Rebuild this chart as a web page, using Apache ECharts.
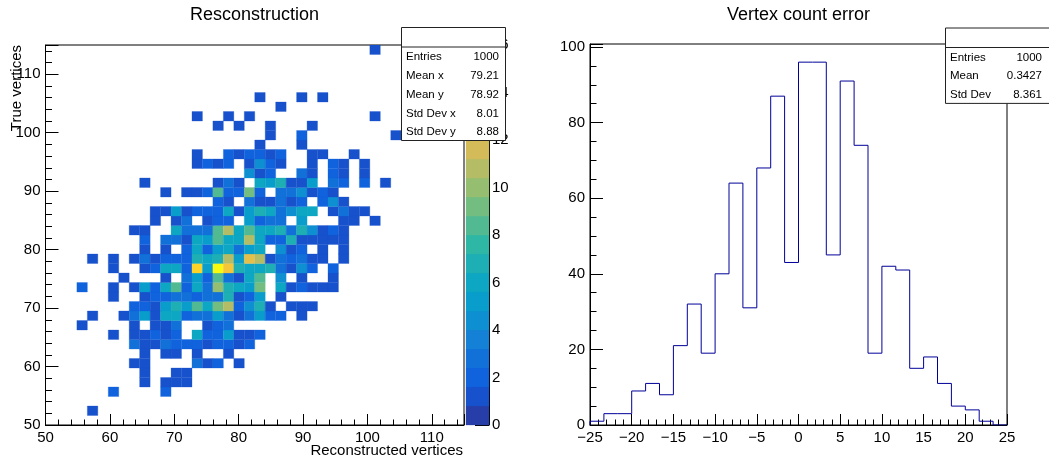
<!DOCTYPE html>
<html>
<head>
<meta charset="utf-8">
<title>Resconstruction</title>
<script src="https://cdn.jsdelivr.net/npm/echarts@6/dist/echarts.min.js"></script>
<style>
  html, body { margin: 0; padding: 0; background: #fff; }
  #chart { width: 1049px; height: 469px; }
</style>
</head>
<body>
<div id="chart"></div>
<script>
// 2D histogram: 40 x 40 bins over [50, 115] on both axes
const xMin = 50, xMax = 115, yMin = 50, yMax = 115, nBins2d = 40;
const zMax = 16, nContours = 20;
// [binX, binY, entries] (empty bins are not listed)
const cells = [
  [4,1,1],
  [6,3,2],[11,3,2],
  [9,4,1],[11,4,1],[12,4,1],[13,4,1],
  [9,5,1],[12,5,1],[13,5,1],
  [8,6,1],[9,6,1],[14,6,3],[15,6,1],[16,6,2],[18,6,1],
  [9,7,1],[11,7,1],[12,7,1],[14,7,1],[17,7,1],
  [8,8,3],[9,8,1],[10,8,1],[11,8,3],[12,8,2],[13,8,2],[14,8,2],[15,8,1],[16,8,2],[17,8,2],[18,8,1],[19,8,2],
  [6,9,1],[8,9,1],[9,9,1],[10,9,2],[11,9,1],[12,9,2],[14,9,6],[15,9,2],[16,9,2],[17,9,5],[18,9,1],[19,9,1],[20,9,2],
  [3,10,1],[8,10,1],[10,10,1],[11,10,1],[12,10,3],[15,10,1],[16,10,2],[17,10,3],
  [4,11,1],[7,11,1],[8,11,3],[9,11,5],[10,11,1],[11,11,6],[12,11,6],[13,11,2],[14,11,3],[15,11,3],[16,11,5],[17,11,3],[18,11,1],[19,11,3],[20,11,5],[21,11,2],[22,11,2],[24,11,1],
  [8,12,2],[9,12,2],[10,12,1],[11,12,5],[12,12,7],[13,12,5],[14,12,8],[15,12,6],[16,12,9],[17,12,11],[18,12,2],[19,12,4],[20,12,7],[21,12,1],[23,12,1],[24,12,1],[25,12,1],
  [6,13,1],[9,13,1],[10,13,2],[11,13,2],[12,13,3],[13,13,3],[14,13,2],[15,13,3],[16,13,3],[17,13,7],[18,13,1],[19,13,2],[20,13,5],[22,13,1],
  [3,14,2],[6,14,1],[8,14,1],[9,14,5],[10,14,2],[11,14,6],[12,14,8],[13,14,2],[14,14,6],[15,14,3],[16,14,10],[17,14,7],[18,14,6],[19,14,5],[20,14,9],[22,14,6],[23,14,1],[24,14,2],[25,14,1],[26,14,1],[27,14,1],
  [7,15,1],[11,15,1],[13,15,3],[14,15,5],[15,15,2],[16,15,8],[17,15,3],[18,15,1],[19,15,6],[20,15,8],[22,15,4],[24,15,1],[27,15,1],
  [6,16,1],[9,16,1],[10,16,2],[11,16,6],[12,16,6],[13,16,2],[14,16,14],[15,16,5],[16,16,16],[17,16,13],[18,16,7],[19,16,6],[20,16,6],[21,16,7],[22,16,3],[23,16,1],[24,16,4],[25,16,2],[27,16,2],
  [4,17,1],[6,17,1],[8,17,1],[9,17,3],[10,17,1],[11,17,2],[12,17,2],[13,17,2],[14,17,7],[15,17,6],[16,17,7],[17,17,11],[18,17,5],[19,17,12],[20,17,11],[21,17,1],[22,17,3],[23,17,2],[24,17,3],[25,17,1],[26,17,1],[28,17,1],
  [9,18,1],[11,18,1],[13,18,2],[14,18,6],[15,18,2],[16,18,5],[17,18,6],[18,18,3],[19,18,5],[20,18,6],[22,18,4],[23,18,1],[24,18,2],[26,18,1],[28,18,1],
  [9,19,2],[11,19,3],[12,19,3],[13,19,1],[14,19,6],[15,19,5],[16,19,8],[17,19,6],[18,19,6],[19,19,11],[20,19,6],[21,19,2],[22,19,2],[23,19,7],[24,19,1],[25,19,1],[26,19,1],[27,19,1],[28,19,1],
  [8,20,1],[9,20,1],[12,20,6],[13,20,3],[14,20,3],[15,20,3],[16,20,8],[17,20,11],[18,20,6],[19,20,8],[20,20,6],[21,20,6],[22,20,7],[23,20,3],[24,20,7],[25,20,4],[26,20,1],[27,20,2],[28,20,1],
  [10,21,1],[12,21,1],[13,21,3],[15,21,1],[16,21,2],[17,21,2],[19,21,5],[20,21,2],[21,21,3],[22,21,3],[24,21,5],[28,21,1],[29,21,1],[31,21,1],
  [10,22,1],[11,22,1],[12,22,5],[13,22,1],[14,22,2],[15,22,2],[16,22,2],[17,22,6],[18,22,1],[19,22,5],[20,22,7],[21,22,6],[22,22,3],[23,22,4],[24,22,6],[25,22,6],[27,22,1],[28,22,3],[29,22,1],[30,22,1],
  [16,23,2],[17,23,1],[19,23,3],[20,23,1],[21,23,1],[22,23,3],[23,23,1],[24,23,2],[26,23,2],[27,23,4],[28,23,1],
  [11,24,1],[13,24,1],[14,24,1],[15,24,2],[16,24,8],[17,24,2],[18,24,2],[19,24,9],[20,24,2],[22,24,3],[23,24,3],[24,24,4],[25,24,1],[26,24,2],[27,24,1],
  [9,25,1],[16,25,1],[17,25,3],[18,25,1],[20,25,6],[21,25,5],[22,25,7],[23,25,1],[24,25,1],[25,25,5],[27,25,3],[28,25,2],[30,25,2],[32,25,1],
  [19,26,4],[20,26,1],[21,26,2],[24,26,3],[25,26,1],[27,26,2],[28,26,1],[30,26,1],
  [14,27,1],[15,27,2],[16,27,1],[17,27,2],[19,27,1],[20,27,4],[21,27,2],[22,27,1],[25,27,1],[27,27,2],[28,27,1],[30,27,1],
  [14,28,1],[17,28,2],[18,28,1],[19,28,2],[20,28,2],[21,28,1],[22,28,2],[25,28,1],[26,28,1],[29,28,1],
  [20,29,1],[24,29,1],
  [21,30,1],[24,30,2],[33,30,1],
  [16,31,1],[18,31,1],[21,31,1],[25,31,1],
  [14,32,1],[17,32,1],[19,32,1],[31,32,1],
  [22,33,1],
  [20,34,1],[24,34,1],[26,34,1],
  [31,39,1]
];

// 1D histogram: 30 bins over [-25, 25]
const errMin = -25, errMax = 25;
const errCounts = [1,3,3,9,11,8,21,32,19,40,64,31,68,87,43,96,96,45,91,74,19,42,41,15,18,11,5,4,1,0];
const errYMax = 100.8;

const stats2d = [['Entries','1000'],['Mean x','79.21'],['Mean y','78.92'],['Std Dev x','8.01'],['Std Dev y','8.88']];
const stats1d = [['Entries','1000'],['Mean','0.3427'],['Std Dev','8.361']];

const FONT = 'Liberation Sans, Arial, Helvetica, sans-serif';

// ROOT kBird palette
const birdStops = [[53,42,135],[15,92,221],[20,129,214],[6,164,202],[46,183,164],[135,191,119],[209,187,89],[254,200,50],[249,251,14]];
function birdColor(f) {
  const s = Math.min(Math.max(f, 0), 1) * (birdStops.length - 1);
  const k = Math.min(Math.floor(s), birdStops.length - 2), t = s - k;
  const a = birdStops[k], b = birdStops[k + 1];
  return 'rgb(' + a.map((v, i) => Math.round(v + (b[i] - v) * t)).join(',') + ')';
}
function levelColor(level) {
  const idx = Math.floor((level + 0.99) * 255 / nContours);
  return birdColor(Math.min(idx, 254) / 254);
}
function binColor(n) {
  const level = Math.min(Math.floor(0.01 + n * nContours / zMax), nContours - 1);
  return levelColor(level);
}

const binW = (xMax - xMin) / nBins2d, binH = (yMax - yMin) / nBins2d;
const cellData = cells.map(c => [xMin + c[0] * binW, yMin + c[1] * binH, c[2]]);
const bandData = Array.from({ length: nContours }, (_, k) => [0, k]);

const errWidth = (errMax - errMin) / errCounts.length;
const errOutline = [[errMin, 0]];
errCounts.forEach((n, k) => {
  errOutline.push([errMin + k * errWidth, n], [errMin + (k + 1) * errWidth, n]);
});
errOutline.push([errMax, 0]);

const chart = echarts.init(document.getElementById('chart'));

function majorAxis(grid, pos, min, max, step, tickLen, fmt) {
  return {
    type: 'value', gridIndex: grid, position: pos, min: min, max: max, interval: step,
    axisLine: { show: true, onZero: false, lineStyle: { color: '#000', width: 1 } },
    axisTick: { show: true, inside: true, length: tickLen, lineStyle: { color: '#000', width: 1 } },
    axisLabel: { margin: 5, fontSize: 15, color: '#000', fontFamily: FONT, formatter: fmt },
    splitLine: { show: false }
  };
}
function minorAxis(grid, pos, min, max, step, tickLen) {
  return {
    type: 'value', gridIndex: grid, position: pos, min: min, max: max, interval: step,
    axisLine: { show: false, onZero: false },
    axisTick: { show: true, inside: true, length: tickLen, lineStyle: { color: '#000', width: 1 } },
    axisLabel: { show: false },
    splitLine: { show: false }
  };
}
const every = step => v => (Math.abs(v % step) < 1e-9 ? String(v).replace('-', '\u2212') : '');

function statsBox(x, y, w, rows, labelX, valueX) {
  const rowH = 18.8;
  const children = [
    { type: 'rect', z: 100, shape: { x: x, y: y, width: w, height: 20 + rows.length * rowH - 1 },
      style: { fill: '#fff', stroke: '#222', lineWidth: 1 } },
    { type: 'line', z: 101, shape: { x1: x, y1: y + 19.5, x2: x + w, y2: y + 19.5 },
      style: { stroke: '#222', lineWidth: 1 } }
  ];
  rows.forEach((r, i) => {
    const ty = y + 29.5 + i * rowH;
    children.push({ type: 'text', z: 101, x: labelX, y: ty,
      style: { text: r[0], fill: '#000', font: '11.5px ' + FONT, textAlign: 'left', textVerticalAlign: 'middle' } });
    children.push({ type: 'text', z: 101, x: valueX, y: ty,
      style: { text: r[1], fill: '#000', font: '11.5px ' + FONT, textAlign: 'right', textVerticalAlign: 'middle' } });
  });
  return { type: 'group', z: 100, children: children };
}

const option = {
  animation: false,
  backgroundColor: '#fff',
  textStyle: { fontFamily: FONT },
  grid: [
    { left: 45.5, top: 45, width: 418.5, height: 380, show: true, borderColor: '#000', borderWidth: 1 },
    { left: 466, top: 45, width: 23, height: 380 },
    { left: 590, top: 44, width: 417, height: 381, show: true, borderColor: '#000', borderWidth: 1 }
  ],
  xAxis: [
    majorAxis(0, 'bottom', xMin, xMax, 10, 11, every(10)),
    minorAxis(0, 'bottom', xMin, xMax, 2, 5.5),
    { type: 'value', gridIndex: 1, position: 'bottom', min: 0, max: 1, show: false },
    majorAxis(2, 'bottom', errMin, errMax, 5, 11, every(5)),
    minorAxis(2, 'bottom', errMin, errMax, 1, 5.5)
  ],
  yAxis: [
    majorAxis(0, 'left', yMin, yMax, 10, 13, every(10)),
    minorAxis(0, 'left', yMin, yMax, 2, 6.5),
    Object.assign(majorAxis(1, 'right', 0, zMax, 2, 14, every(2)), { axisLabel: { margin: 3, fontSize: 15, color: '#000', fontFamily: FONT } }),
    majorAxis(2, 'left', 0, errYMax, 20, 13, every(20)),
    minorAxis(2, 'left', 0, errYMax, 5, 6.5)
  ],
  series: [
    {
      type: 'custom', name: 'Resconstruction', xAxisIndex: 0, yAxisIndex: 0,
      data: cellData, encode: { x: 0, y: 1 }, clip: true, silent: true,
      renderItem: function (params, api) {
        const x0 = api.value(0), y0 = api.value(1), n = api.value(2);
        const p0 = api.coord([x0, y0]);
        const p1 = api.coord([x0 + binW, y0 + binH]);
        return {
          type: 'rect',
          shape: { x: p0[0], y: p1[1], width: p1[0] - p0[0], height: p0[1] - p1[1] },
          style: { fill: binColor(n), stroke: binColor(n), lineWidth: 0.3 }
        };
      }
    },
    {
      type: 'custom', name: 'palette', xAxisIndex: 2, yAxisIndex: 2,
      data: bandData, encode: { x: 0, y: 1 }, silent: true,
      renderItem: function (params, api) {
        const k = api.value(1);
        const p0 = api.coord([0, k * zMax / nContours]);
        const p1 = api.coord([1, (k + 1) * zMax / nContours]);
        return {
          type: 'rect',
          shape: { x: p0[0], y: p1[1], width: p1[0] - p0[0], height: p0[1] - p1[1] },
          style: { fill: levelColor(k), stroke: levelColor(k), lineWidth: 0.3 }
        };
      }
    },
    {
      type: 'line', name: 'Vertex count error', xAxisIndex: 3, yAxisIndex: 3,
      data: errOutline, symbol: 'none', silent: true,
      lineStyle: { color: '#000099', width: 1 }
    }
  ],
  graphic: [
    { type: 'text', x: 254.5, y: 15, z: 100,
      style: { text: 'Resconstruction', fill: '#000', font: '18px ' + FONT, textAlign: 'center', textVerticalAlign: 'middle' } },
    { type: 'text', x: 798.5, y: 15, z: 100,
      style: { text: 'Vertex count error', fill: '#000', font: '18px ' + FONT, textAlign: 'center', textVerticalAlign: 'middle' } },
    { type: 'text', x: 463, y: 451, z: 100,
      style: { text: 'Reconstructed vertices', fill: '#000', font: '15px ' + FONT, textAlign: 'right', textVerticalAlign: 'middle' } },
    { type: 'text', x: 17, y: 45, rotation: Math.PI / 2, z: 100,
      style: { text: 'True vertices', fill: '#000', font: '15px ' + FONT, textAlign: 'right', textVerticalAlign: 'middle' } },
    statsBox(401.5, 27.5, 104, stats2d, 406, 499),
    statsBox(945.5, 28, 110, stats1d, 950, 1042)
  ]
};

chart.setOption(option);
</script>
</body>
</html>
